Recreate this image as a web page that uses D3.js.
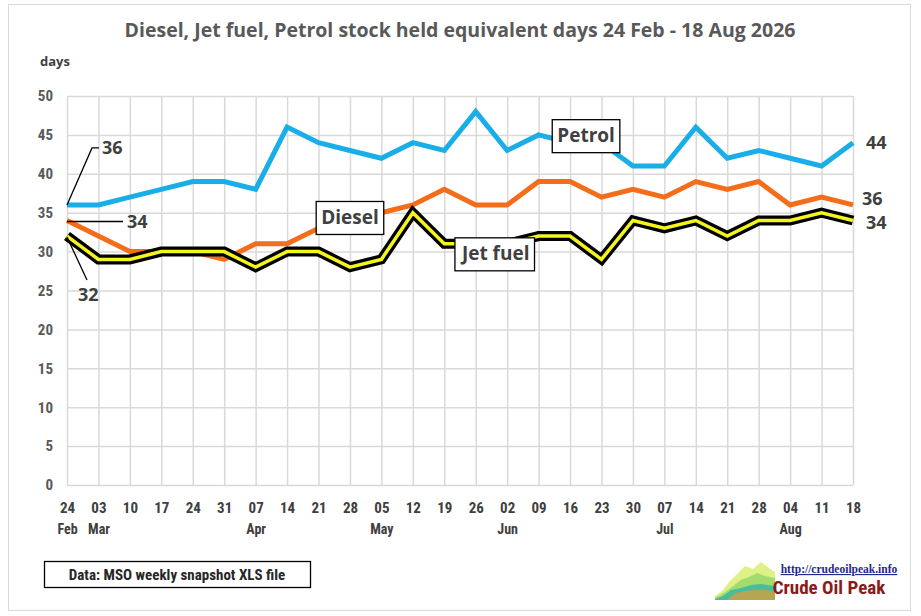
<!DOCTYPE html>
<meta charset="utf-8">
<script src="https://d3js.org/d3.v7.min.js"></script>
<style>
  body { margin: 0; background: #fff; }
  text { font-family: "Open Sans", "Noto Sans", Arial, sans-serif; }
  .narrow { font-family: "Liberation Sans Narrow", "Roboto Condensed", "Roboto", sans-serif; }
</style>
<div id="chart"></div>
<script>
// weekly snapshot dates (category keys)
var weeks = ["2026-02-24","2026-03-03","2026-03-10","2026-03-17","2026-03-24","2026-03-31",
  "2026-04-07","2026-04-14","2026-04-21","2026-04-28","2026-05-05","2026-05-12","2026-05-19",
  "2026-05-26","2026-06-02","2026-06-09","2026-06-16","2026-06-23","2026-06-30","2026-07-07",
  "2026-07-14","2026-07-21","2026-07-28","2026-08-04","2026-08-11","2026-08-18"];
var dayLabels = ["24","03","10","17","24","31","07","14","21","28","05","12","19","26","02","09",
  "16","23","30","07","14","21","28","04","11","18"];
var monthLabels = ["Feb","Mar","","","","","Apr","","","","May","","","","Jun","","","","","Jul",
  "","","","Aug","",""];

var petrol = [36,36,37,38,39,39,38,46,44,43,42,44,43,48,43,45,44,44,41,41,46,42,43,42,41,44];
var diesel = [34,32,30,30,30,29,31,31,33,34,35,36,38,36,36,39,39,37,38,37,39,38,39,36,37,36];
var jetFuel = [32,29,29,30,30,30,28,30,30,28,29,35,31,31,31,32,32,29,34,33,34,32,34,34,35,34];

var yTicks = [0,5,10,15,20,25,30,35,40,45,50];

var W = 921, H = 616;
var margin = { top: 96, right: 68, bottom: 131, left: 67 },
    width = W - margin.left - margin.right,
    height = H - margin.top - margin.bottom;

var svg = d3.select("#chart").append("svg")
    .attr("width", W).attr("height", H);

// outer frame
svg.append("rect")
    .attr("x", 8.5).attr("y", 4.5).attr("width", 902).attr("height", 606)
    .attr("fill", "#fff").attr("stroke", "#d9d9d9").attr("stroke-width", 1);

svg.append("text")
    .attr("x", 460).attr("y", 37)
    .attr("text-anchor", "middle")
    .attr("font-size", 19.5).attr("font-weight", "bold").attr("fill", "#595959")
    .text("Diesel, Jet fuel, Petrol stock held equivalent days 24 Feb - 18 Aug 2026");

svg.append("text")
    .attr("x", 40).attr("y", 66)
    .attr("font-size", 13).attr("font-weight", "bold").attr("fill", "#404040")
    .text("days");

var g = svg.append("g")
    .attr("transform", "translate(" + margin.left + "," + margin.top + ")");

var x = d3.scalePoint().domain(weeks).range([0, width]);
var y = d3.scaleLinear().domain([0, 50]).range([height, 0]);

// gridlines
g.append("g")
    .call(d3.axisLeft(y).tickValues(yTicks).tickSize(-width).tickFormat(""))
    .call(function (a) { a.select(".domain").remove(); })
    .selectAll("line").attr("stroke", "#d9d9d9").attr("stroke-width", 1.5);
g.append("g")
    .call(d3.axisBottom(x).tickSize(height).tickFormat(""))
    .call(function (a) { a.select(".domain").remove(); })
    .selectAll("line").attr("stroke", "#d9d9d9").attr("stroke-width", 1.5);

// y axis labels
var yAx = g.append("g")
    .call(d3.axisLeft(y).tickValues(yTicks).tickSize(0).tickPadding(14));
yAx.select(".domain").remove();
yAx.selectAll("text").attr("class", "narrow")
    .attr("font-size", 15).attr("font-weight", "bold").attr("fill", "#595959");

// x axis: days then months
var xAx = g.append("g")
    .attr("transform", "translate(0," + height + ")")
    .call(d3.axisBottom(x).tickSize(0).tickPadding(17)
      .tickFormat(function (d, i) { return dayLabels[i]; }));
xAx.select(".domain").remove();
xAx.selectAll("text").attr("class", "narrow")
    .attr("font-size", 15).attr("font-weight", "bold").attr("fill", "#404040");

var mAx = g.append("g")
    .attr("transform", "translate(0," + height + ")")
    .call(d3.axisBottom(x).tickSize(0).tickPadding(39)
      .tickFormat(function (d, i) { return monthLabels[i]; }));
mAx.select(".domain").remove();
mAx.selectAll("text").attr("class", "narrow")
    .attr("font-size", 14).attr("font-weight", "bold").attr("fill", "#404040");

var line = d3.line()
    .x(function (d, i) { return x(weeks[i]); })
    .y(function (d) { return y(d); });

g.append("path").datum(petrol).attr("d", line)
    .attr("fill", "none").attr("stroke", "#1aaee8").attr("stroke-width", 5)
    .attr("stroke-linejoin", "miter");
g.append("path").datum(diesel).attr("d", line)
    .attr("fill", "none").attr("stroke", "#f46d1b").attr("stroke-width", 5);
g.append("path").datum(jetFuel).attr("d", line)
    .attr("fill", "none").attr("stroke", "#000").attr("stroke-width", 10);
g.append("path").datum(jetFuel).attr("d", line)
    .attr("fill", "none").attr("stroke", "#f5f51e").attr("stroke-width", 3.5);

// value callouts
function valText(px, py, t, anchor) {
  g.append("text").attr("x", px).attr("y", py).attr("dy", "0.35em")
    .attr("text-anchor", anchor || "start")
    .attr("font-size", 18).attr("font-weight", "bold").attr("fill", "#404040")
    .text(t);
}
function leader(pts) {
  g.append("path").attr("d", d3.line()(pts))
    .attr("fill", "none").attr("stroke", "#000").attr("stroke-width", 1.3);
}
var x0 = x(weeks[0]), xn = x(weeks[weeks.length - 1]);
leader([[x0, y(petrol[0])], [x0 + 25, y(petrol[0]) - 57], [x0 + 32, y(petrol[0]) - 57]]);
valText(x0 + 35, y(petrol[0]) - 57, petrol[0]);
leader([[x0, y(diesel[0]) + 1], [x0 + 56, y(diesel[0]) + 1]]);
valText(x0 + 60, y(diesel[0]) + 1, diesel[0]);
leader([[x0, y(jetFuel[0]) + 1], [x0 + 20, y(jetFuel[0]) + 44]]);
valText(x0 + 11, y(jetFuel[0]) + 59, jetFuel[0]);

valText(xn + 13, y(petrol[petrol.length - 1]), petrol[petrol.length - 1]);
valText(xn + 9, y(diesel[diesel.length - 1]) - 6, diesel[diesel.length - 1]);
valText(xn + 13, y(jetFuel[jetFuel.length - 1]) + 2, jetFuel[jetFuel.length - 1]);

// boxed series names
function seriesBox(i, offset, name, vals) {
  var cx = x(weeks[i]) + offset[0], cy = y(vals[i]) + offset[1];
  var t = g.append("text").attr("x", cx).attr("y", cy).attr("dy", "0.35em")
    .attr("text-anchor", "middle")
    .attr("font-size", 19).attr("font-weight", "bold").attr("fill", "#404040")
    .text(name);
  var bb = t.node().getBBox();
  g.insert("rect", function () { return t.node(); })
    .attr("x", bb.x - 5).attr("y", cy - 16).attr("width", bb.width + 10).attr("height", 33)
    .attr("fill", "#fff").attr("stroke", "#000").attr("stroke-width", 1.3);
}
seriesBox(9, [0, -3], "Diesel", diesel);
seriesBox(16, [16, -7], "Petrol", petrol);
seriesBox(13, [20, 10], "Jet fuel", jetFuel);

// source note
svg.append("rect").attr("x", 44.5).attr("y", 561.5).attr("width", 266).attr("height", 26)
    .attr("fill", "#fff").attr("stroke", "#000").attr("stroke-width", 1.3);
svg.append("text").attr("class", "narrow").attr("x", 177).attr("y", 575).attr("dy", "0.35em")
    .attr("text-anchor", "middle").attr("font-size", 15).attr("font-weight", "bold")
    .attr("fill", "#262626").text("Data: MSO weekly snapshot XLS file");

// logo
var logo = svg.append("g").attr("transform", "translate(715,560)");
var bands = [
  { c: "#d9f07a", p: [[0,36],[8,30],[14,22],[22,14],[30,6],[38,9],[46,2],[54,8],[60,12],[60,40],[0,40]] },
  { c: "#9bd86b", p: [[0,38],[10,32],[18,26],[26,20],[34,17],[42,13],[50,16],[60,18],[60,40],[0,40]] },
  { c: "#3cb9a4", p: [[0,39],[8,36],[16,30],[26,28],[36,25],[46,24],[60,26],[60,40],[0,40]] },
  { c: "#c2a24a", p: [[12,40],[20,33],[30,31],[40,30],[50,30],[60,31],[60,40]] }
];
bands.forEach(function (b) {
  logo.append("path").attr("d", d3.line()(b.p) + "Z").attr("fill", b.c).attr("opacity", 0.9);
});
svg.append("text").attr("x", 839).attr("y", 573).attr("text-anchor", "middle")
    .style("font-family", "'Liberation Serif', serif").attr("font-size", 11.5)
    .attr("font-weight", "bold").attr("fill", "#1c2a8c").attr("text-decoration", "underline")
    .text("http://crudeoilpeak.info");
svg.append("text").attr("class", "narrow").attr("x", 829).attr("y", 594).attr("text-anchor", "middle")
    .attr("font-size", 19).attr("font-weight", "bold").attr("fill", "#8c1a1a")
    .text("Crude Oil Peak");
</script>
